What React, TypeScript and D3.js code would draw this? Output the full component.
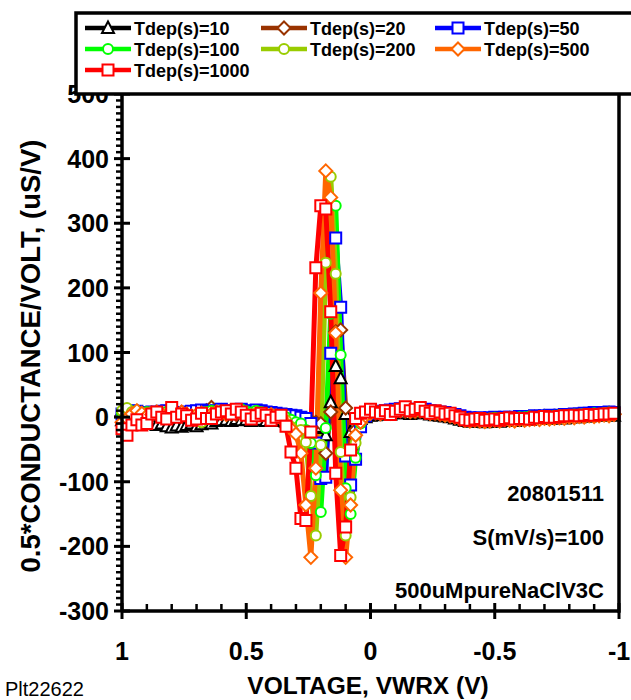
import React from "react";
import * as d3 from "d3";

const voltage = [
  1.0, 0.98, 0.96, 0.94, 0.92, 0.9, 0.88, 0.86, 0.84, 0.82,
  0.8, 0.78, 0.76, 0.74, 0.72, 0.7, 0.68, 0.66, 0.64, 0.62,
  0.6, 0.58, 0.56, 0.54, 0.52, 0.5, 0.48, 0.46, 0.44, 0.42,
  0.4, 0.38, 0.36, 0.34, 0.32, 0.3, 0.28, 0.26, 0.24, 0.22,
  0.2, 0.18, 0.16, 0.14, 0.12, 0.1, 0.08, 0.06, 0.04, 0.02,
  0.0, -0.02, -0.04, -0.06, -0.08, -0.1, -0.12, -0.14, -0.16, -0.18,
  -0.2, -0.22, -0.24, -0.26, -0.28, -0.3, -0.32, -0.34, -0.36, -0.38,
  -0.4, -0.42, -0.44, -0.46, -0.48, -0.5, -0.52, -0.54, -0.56, -0.58,
  -0.6, -0.62, -0.64, -0.66, -0.68, -0.7, -0.72, -0.74, -0.76, -0.78,
  -0.8, -0.82, -0.84, -0.86, -0.88, -0.9, -0.92, -0.94, -0.96, -0.98,
];

const tdep10 = [
  -5, -8, -6, -10, -8, -7, -9, -12, -10, -14,
  -16, -13, -15, -12, -10, -14, -11, -8, -10, -6,
  -5, -4, -6, -3, -5, -4, -6, -5, -4, -6,
  -5, -6, -4, -7, -8, -9, -10, -12, -14, -17,
  -15, -28, 23, 79, 60, 5, -23, -8, -3, 0,
  2, 3, 4, 5, 4, 6, 7, 6, 5, 6,
  7, 6, 4, 3, 2, 1, 0, -2, -4, -6,
  -7, -6, -7, -8, -7, -6, -7, -6, -5, -6,
  -5, -4, -4, -3, -3, -2, -3, -2, -1, -2,
  -1, 0, 0, 1, 1, 2, 2, 3, 3, 2,
];

const tdep20 = [
  2, 4, 6, 5, 3, 4, 6, 5, 4, 6,
  5, 4, 3, 2, 1, 3, 4, 10, 15, 8,
  10, 6, 5, 4, 6, 5, 3, 4, 5, 3,
  2, 1, 0, -1, -2, -3, -4, -5, -6, -8,
  -10, -56, 8, 132, 135, 14, -50, -20, -5, 2,
  5, 6, 7, 8, 8, 9, 10, 9, 8, 8,
  9, 8, 6, 5, 4, 3, 2, 0, -2, -4,
  -5, -4, -5, -5, -4, -3, -4, -3, -2, -3,
  -2, -2, -1, 0, 0, 1, 0, 1, 2, 1,
  2, 2, 3, 3, 4, 4, 5, 5, 6, 5,
];

const tdep50 = [
  5, 8, 10, 9, 7, 6, 8, 7, 9, 10,
  8, 7, 6, 8, 9, 10, 11, 9, 8, 10,
  12, 10, 9, 11, 12, 10, 9, 11, 10, 8,
  7, 6, 5, 4, 3, 2, 0, -2, -10, -40,
  -95, -93, 99, 277, 170, -60, -105, -65, -15, 2,
  6, 8, 9, 10, 11, 12, 13, 12, 11, 12,
  13, 12, 10, 9, 8, 7, 5, 4, 2, 0,
  -1, -2, -1, -2, -1, 0, -1, 0, 0, -1,
  1, 0, 1, 2, 1, 2, 3, 2, 3, 4,
  4, 5, 5, 6, 6, 7, 6, 7, 8, 7,
];

const tdep100 = [
  6, 12, 9, 7, 5, 8, 6, 4, 6, 8,
  5, 6, 3, 4, 2, 3, 5, 8, 10, 8,
  10, 8, 6, 10, 12, 9, 7, 10, 8, 5,
  4, 3, 2, 0, -4, -8, -10, -20, -40, -90,
  -147, -17, 160, 327, 96, -110, -150, -63, -10, 3,
  6, 8, 9, 10, 9, 11, 12, 11, 10, 10,
  12, 10, 8, 7, 5, 5, 3, 2, 0, -2,
  -3, -2, -3, -3, -2, -1, -2, -2, -1, -1,
  0, 0, 1, 0, 1, 2, 1, 2, 3, 2,
  3, 4, 4, 5, 5, 6, 5, 6, 7, 6,
];

const tdep200 = [
  10, 14, 8, 5, 3, 6, 8, 4, 2, 5,
  7, 3, 2, 4, 1, -5, -8, -3, 2, 6,
  8, 5, 9, 11, 7, 4, 3, 6, 4, 2,
  3, 1, -2, -5, -15, -25, -20, -39, -122, -183,
  -43, 239, 372, 222, -54, -183, -124, -40, -5, 3,
  7, 9, 7, 8, 9, 10, 11, 12, 10, 9,
  10, 9, 8, 7, 6, 4, 3, 1, -1, -3,
  -4, -3, -4, -5, -4, -3, -4, -3, -2, -3,
  -2, -1, -2, -1, 0, 1, 0, 1, 2, 1,
  2, 3, 3, 4, 5, 4, 5, 6, 5, 6,
];

const tdep500 = [
  -8, -2, 5, 10, 6, 2, 4, 8, 5, 3,
  6, 4, 8, 5, 2, 4, 6, 3, 5, 8,
  6, 4, 7, 9, 6, 3, 2, 5, 4, 3,
  4, 2, 0, -10, -18, -26, -56, -136, -217, -79,
  192, 381, 340, 130, -113, -217, -136, -28, -8, 2,
  6, 8, 5, 7, 6, 8, 10, 12, 9, 10,
  11, 8, 6, 7, 5, 3, 2, 0, -3, -5,
  -6, -5, -6, -7, -6, -5, -6, -4, -5, -6,
  -4, -5, -4, -3, -4, -2, -3, -2, -1, -2,
  0, -1, 1, 0, 2, 1, 2, 3, 2, 4,
];

const tdep1000 = [
  -18, -28, -12, -4, -12, -10, 5, 8, 0, -3,
  15, 0, 5, 2, -5, -3, 6, -2, -2, 5,
  8, 10, 5, 12, 8, 3, -3, 2, 6, 3,
  -5, 0, 3, -14, -54, -79, -157, -160, -23, 231,
  327, 322, 163, -87, -214, -170, -51, -2, 6, 8,
  12, 8, 6, 10, 4, 9, 12, 16, 10, 12,
  15, 9, 6, 10, 8, 5, 6, 2, 0, -4,
  -5, -3, -2, -5, -4, -3, -5, -2, -1, -3,
  -2, -2, -3, 0, -1, 1, 0, 0, 1, 2,
  2, 3, 2, 3, 4, 3, 4, 5, 5, 6,
];

const seriesNames = [
  "Tdep(s)=10",
  "Tdep(s)=20",
  "Tdep(s)=50",
  "Tdep(s)=100",
  "Tdep(s)=200",
  "Tdep(s)=500",
  "Tdep(s)=1000",
];
const seriesValues = [tdep10, tdep20, tdep50, tdep100, tdep200, tdep500, tdep1000];
const seriesColors = ["#000000", "#993300", "#0000ff", "#00ff00", "#99cc00", "#ff6600", "#ff0000"];
const seriesMarkers = ["triangle", "diamond", "square", "circle", "circle", "diamond", "square"];

const xTicks = [1, 0.5, 0, -0.5, -1];
const xTickLabels = ["1", "0.5", "0", "-0.5", "-1"];
const yTicks = [-300, -200, -100, 0, 100, 200, 300, 400, 500];

const annotations = ["20801511", "S(mV/s)=100", "500uMpureNaClV3C"];

const FONT = "'Liberation Sans', Arial, Helvetica, sans-serif";

function markerPath(kind: string): string {
  switch (kind) {
    case "triangle":
      return "M0,-6.5L6,5L-6,5Z";
    case "diamond":
      return "M0,-6.5L6.5,0L0,6.5L-6.5,0Z";
    case "square":
      return "M-5.5,-5.5L5.5,-5.5L5.5,5.5L-5.5,5.5Z";
    default:
      return "M5,0A5,5 0 1,1 -5,0A5,5 0 1,1 5,0Z";
  }
}

export default function App() {
  const W = 631;
  const H = 700;
  const left = 122;
  const right = 619;
  const top = 94;
  const bottom = 611;

  const x = d3.scaleLinear().domain([1, -1]).range([left, right]);
  const y = d3.scaleLinear().domain([-300, 500]).range([bottom, top]);

  const line = d3
    .line<number>()
    .x((_, i) => x(voltage[i]))
    .y((d) => y(d));

  const yMinor = d3.range(-300, 501, 10).filter((v) => v % 100 !== 0);
  const xMinor = d3
    .range(-10, 11, 1)
    .map((v) => v / 10)
    .filter((v) => Math.abs(v * 2 - Math.round(v * 2)) > 1e-6);

  const legendCols = [85, 261, 435];
  const legendRows = [28, 49, 70];

  return (
    <svg
      width={W}
      height={H}
      style={{ position: "absolute", left: 0, top: 0, background: "#fff" }}
      fontFamily={FONT}
    >
      <rect x={0} y={0} width={W} height={H} fill="#fff" />

      {seriesValues.map((vals, s) => (
        <path
          key={"l" + s}
          d={line(vals) || ""}
          fill="none"
          stroke={seriesColors[s]}
          strokeWidth={5}
          strokeLinejoin="round"
          strokeLinecap="round"
        />
      ))}
      {seriesValues.map((vals, s) => (
        <g key={"m" + s}>
          {vals.map((v, i) => (
            <path
              key={i}
              d={markerPath(seriesMarkers[s])}
              transform={`translate(${x(voltage[i])},${y(v)})`}
              fill="#fff"
              stroke={seriesColors[s]}
              strokeWidth={2}
            />
          ))}
        </g>
      ))}

      <line x1={left} x2={left} y1={top} y2={bottom} stroke="#000" strokeWidth={3.5} />
      <line x1={left} x2={right} y1={bottom} y2={bottom} stroke="#000" strokeWidth={3.5} />
      <line x1={right} x2={right} y1={top} y2={bottom + 1.75} stroke="#000" strokeWidth={3.5} />

      {yMinor.map((v) => (
        <line key={"ym" + v} x1={left - 6} x2={left} y1={y(v)} y2={y(v)} stroke="#000" strokeWidth={2.5} />
      ))}
      {yTicks.map((v) => (
        <line key={"yt" + v} x1={left - 8} x2={left + 8} y1={y(v)} y2={y(v)} stroke="#000" strokeWidth={3} />
      ))}
      {yTicks.map((v) => (
        <text key={"yl" + v} x={left - 13} y={y(v) + 9} textAnchor="end" fontSize={25} fontWeight="bold">
          {v}
        </text>
      ))}

      {xMinor.map((v) => (
        <line key={"xm" + v} x1={x(v)} x2={x(v)} y1={bottom - 7} y2={bottom} stroke="#000" strokeWidth={2.5} />
      ))}
      {xTicks.map((v) => (
        <line key={"xt" + v} x1={x(v)} x2={x(v)} y1={bottom - 8} y2={bottom + 8} stroke="#000" strokeWidth={3} />
      ))}
      {xTicks.map((v, i) => (
        <text key={"xl" + v} x={x(v)} y={660} textAnchor="middle" fontSize={25} fontWeight="bold">
          {xTickLabels[i]}
        </text>
      ))}

      {annotations.map((t, i) => (
        <text key={"a" + i} x={604} y={[501, 545, 598][i]} textAnchor="end" fontSize={22} fontWeight="bold">
          {t}
        </text>
      ))}

      <text x={368} y={694} textAnchor="middle" fontSize={24.5} fontWeight="bold">
        VOLTAGE, VWRX (V)
      </text>
      <text transform={`translate(40,356) rotate(-90)`} textAnchor="middle" fontSize={27.5} fontWeight="bold">
        0.5*CONDUCTANCE/VOLT, (uS/V)
      </text>
      <text x={5} y={696} fontSize={20}>
        Plt22622
      </text>

      <rect x={76} y={13} width={600} height={81} fill="#fff" stroke="#000" strokeWidth={3.5} />
      {seriesNames.map((name, s) => {
        const col = s % 3;
        const row = Math.floor(s / 3);
        const cx = legendCols[col];
        const cy = legendRows[row];
        return (
          <g key={"lg" + s}>
            <line x1={cx} x2={cx + 46} y1={cy} y2={cy} stroke={seriesColors[s]} strokeWidth={4.5} />
            <path
              d={markerPath(seriesMarkers[s])}
              transform={`translate(${cx + 23},${cy})`}
              fill="#fff"
              stroke={seriesColors[s]}
              strokeWidth={2}
            />
            <text x={cx + 49} y={cy + 6.5} fontSize={18} fontWeight="bold">
              {name}
            </text>
          </g>
        );
      })}
    </svg>
  );
}
